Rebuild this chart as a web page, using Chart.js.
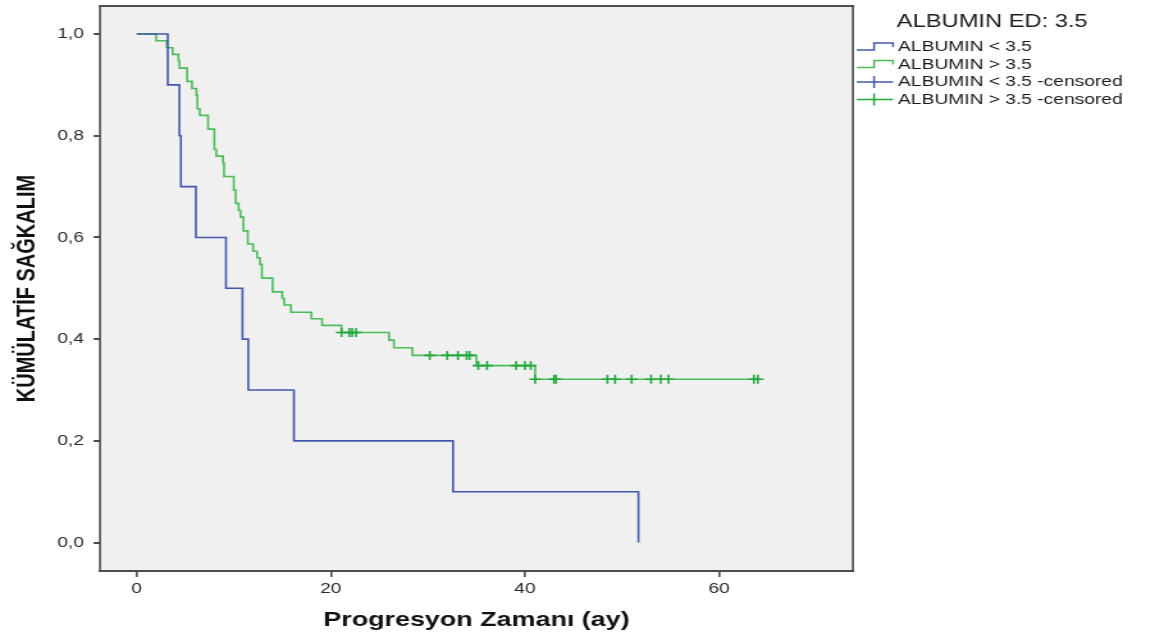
<!DOCTYPE html>
<html>
<head>
<meta charset="utf-8">
<script src="https://cdn.jsdelivr.net/npm/chart.js@4.4.1/dist/chart.umd.min.js"></script>
<style>
  html, body { margin: 0; padding: 0; background: #fff; overflow: hidden; }
  /* the export is drawn on a narrower canvas and widened on screen */
  #wrap { position: absolute; left: 0; top: 0; width: 902px; height: 637px;
          transform: scaleX(1.2805); transform-origin: 0 0; }
</style>
</head>
<body>
<div id="wrap"><canvas id="km"></canvas></div>
<script>
const timeTicks = [0, 20, 40, 60];
const survTicks = [0, 0.2, 0.4, 0.6, 0.8, 1.0];

// ALBUMIN < 3.5 : event times (months) and survival after each step
const lowTimes = [0, 3.2, 4.4, 4.55, 6.1, 9.2, 10.9, 11.5, 16.2, 32.6, 51.7];
const lowSurv  = [1.0, 0.9, 0.8, 0.7, 0.6, 0.5, 0.4, 0.3, 0.2, 0.1, 0.0];

// ALBUMIN > 3.5
const highTimes = [0, 2.0, 3.1, 3.7, 4.3, 4.4, 5.2, 5.7, 6.15, 6.25, 6.5, 7.35, 8.0, 8.2, 8.9, 9.0,
  10.0, 10.2, 10.5, 10.7, 11.0, 11.45, 12.0, 12.4, 12.7, 12.9, 14.0, 15.0, 15.2, 15.9, 18.0, 19.1,
  21.1, 26.0, 26.5, 28.4, 35.0, 41.05, 64.1];
const highSurv = [1.0, 0.987, 0.973, 0.960, 0.947, 0.933, 0.907, 0.893, 0.880, 0.853, 0.840, 0.813, 0.773, 0.760, 0.747, 0.720,
  0.693, 0.667, 0.653, 0.640, 0.613, 0.587, 0.573, 0.560, 0.547, 0.520, 0.493, 0.480, 0.467, 0.453, 0.440, 0.427,
  0.413, 0.398, 0.383, 0.368, 0.348, 0.321, 0.321];

// censored cases, ALBUMIN > 3.5
const highCensTimes = [21.1, 21.9, 22.2, 22.6, 30.2, 32.0, 33.1, 34.0, 34.3, 35.2, 36.1, 39.1, 40.0, 40.6,
  41.05, 43.0, 43.2, 48.5, 49.3, 51.0, 53.0, 54.0, 54.8, 63.6, 64.0];
const highCensSurv = [0.413, 0.413, 0.413, 0.413, 0.368, 0.368, 0.368, 0.368, 0.368, 0.348, 0.348, 0.348, 0.348, 0.348,
  0.321, 0.321, 0.321, 0.321, 0.321, 0.321, 0.321, 0.321, 0.321, 0.321, 0.321];

const legendTitle = 'ALBUMIN ED: 3.5';
const legendLabels = ['ALBUMIN < 3.5', 'ALBUMIN > 3.5', 'ALBUMIN < 3.5 -censored', 'ALBUMIN > 3.5 -censored'];
const BLUE = '#4257ad';
const GREEN = '#4cbd5a';
const GREEN_MARK = '#22a83c';
const legendColors = [BLUE, GREEN, BLUE, GREEN_MARK];

const toPoints = (xs, ys) => xs.map((x, i) => ({ x, y: ys[i] }));
const fmt = v => v.toFixed(1).replace('.', ',');

// no extra room for half-labels at the scale ends
const noEndPadding = s => { s.paddingTop = 0; s.paddingBottom = 0; s.paddingLeft = 0; s.paddingRight = 0; };

Chart.defaults.font.family = '"Liberation Sans", Arial, sans-serif';

const plotFrame = {
  id: 'plotFrame',
  beforeDatasetsDraw(chart) {
    const { ctx, chartArea: a } = chart;
    ctx.save();
    ctx.fillStyle = '#f0f0f0';
    ctx.fillRect(a.left, a.top, a.right - a.left, a.bottom - a.top);
    ctx.restore();
  },
  afterDatasetsDraw(chart) {
    const { ctx, chartArea: a } = chart;
    ctx.save();
    ctx.strokeStyle = '#4d4d4d';
    ctx.lineWidth = 2;
    ctx.beginPath();
    ctx.moveTo(a.left - 1, a.top); ctx.lineTo(a.right + 1, a.top);
    ctx.moveTo(a.left - 1, a.bottom); ctx.lineTo(a.right + 1, a.bottom);
    ctx.stroke();
    ctx.lineWidth = 1.6;
    ctx.beginPath();
    ctx.moveTo(a.left, a.top); ctx.lineTo(a.left, a.bottom);
    ctx.moveTo(a.right, a.top); ctx.lineTo(a.right, a.bottom);
    ctx.stroke();
    ctx.restore();
  }
};

const stepLegend = {
  id: 'stepLegend',
  afterDraw(chart) {
    const { ctx, chartArea: a } = chart;
    const x0 = a.right + 3, xm = a.right + 16.5, x1 = a.right + 31.3, tx = a.right + 35.2;
    const rows = [47, 64.5, 82, 99.5];
    ctx.save();
    ctx.fillStyle = '#1a1a1a';
    ctx.font = '18.5px "Liberation Sans", Arial, sans-serif';
    ctx.textBaseline = 'alphabetic';
    ctx.fillText(legendTitle, a.right + 34.2, 26.7);
    ctx.font = '15px "Liberation Sans", Arial, sans-serif';
    ctx.textBaseline = 'middle';
    legendLabels.forEach((lab, i) => {
      const y = rows[i];
      ctx.strokeStyle = legendColors[i];
      ctx.lineWidth = 1.5;
      ctx.beginPath();
      if (i < 2) {
        ctx.moveTo(x0, y + 3); ctx.lineTo(xm, y + 3); ctx.lineTo(xm, y - 4);
        ctx.lineTo(x1, y - 4); ctx.lineTo(x1, y);
      } else {
        ctx.moveTo(x0, y); ctx.lineTo(x1, y);
        ctx.moveTo(xm, y - 6); ctx.lineTo(xm, y + 6);
      }
      ctx.stroke();
      ctx.fillStyle = '#1a1a1a';
      ctx.fillText(lab, tx, y);
    });
    ctx.restore();
  }
};

new Chart(document.getElementById('km'), {
  type: 'scatter',
  data: {
    datasets: [
      {
        label: legendLabels[3], type: 'scatter', data: toPoints(highCensTimes, highCensSurv),
        pointStyle: 'cross', pointRadius: 4.5, pointHoverRadius: 4.5,
        borderColor: GREEN_MARK, backgroundColor: GREEN_MARK, borderWidth: 1.6, order: 0,
      },
      {
        label: legendLabels[0], type: 'line', data: toPoints(lowTimes, lowSurv), stepped: 'before',
        borderColor: BLUE, borderWidth: 1.6, pointRadius: 0, fill: false, order: 1,
      },
      {
        label: legendLabels[1], type: 'line', data: toPoints(highTimes, highSurv), stepped: 'before',
        borderColor: GREEN, borderWidth: 1.6, pointRadius: 0, fill: false, order: 2,
      },
    ],
  },
  options: {
    responsive: true,
    maintainAspectRatio: false,
    animation: false,
    layout: { padding: { left: 0, right: 235.9, top: 4, bottom: 0 } },
    plugins: { legend: { display: false }, tooltip: { enabled: false } },
    scales: {
      x: {
        type: 'linear', min: -3.78, max: 73.8,
        afterBuildTicks: s => { s.ticks = timeTicks.map(v => ({ value: v })); },
        afterFit: s => { s.height = 66; noEndPadding(s); },
        border: { display: false },
        grid: { drawOnChartArea: false, drawTicks: true, tickLength: 6, color: '#4d4d4d', lineWidth: 1.6 },
        ticks: { color: '#2a2a2a', font: { size: 15 }, padding: 3, maxRotation: 0, callback: v => String(v) },
        title: { display: true, text: 'Progresyon Zamanı (ay)', color: '#111',
                 font: { size: 21, weight: 'bold' }, padding: { top: 0, bottom: 4 } },
      },
      y: {
        type: 'linear', min: -0.056, max: 1.055,
        afterBuildTicks: s => { s.ticks = survTicks.map(v => ({ value: v })); },
        afterFit: s => { s.width = 78.1; noEndPadding(s); },
        border: { display: false },
        grid: { drawOnChartArea: false, drawTicks: true, tickLength: 5, color: '#4d4d4d', lineWidth: 2 },
        ticks: { color: '#2a2a2a', font: { size: 15 }, padding: 7.5, callback: v => fmt(v) },
        title: { display: true, text: 'KÜMÜLATİF SAĞKALIM', color: '#111',
                 font: { size: 20, weight: 'bold' }, padding: { top: 9.5, bottom: 0 } },
      },
    },
  },
  plugins: [plotFrame, stepLegend],
});
</script>
</body>
</html>
